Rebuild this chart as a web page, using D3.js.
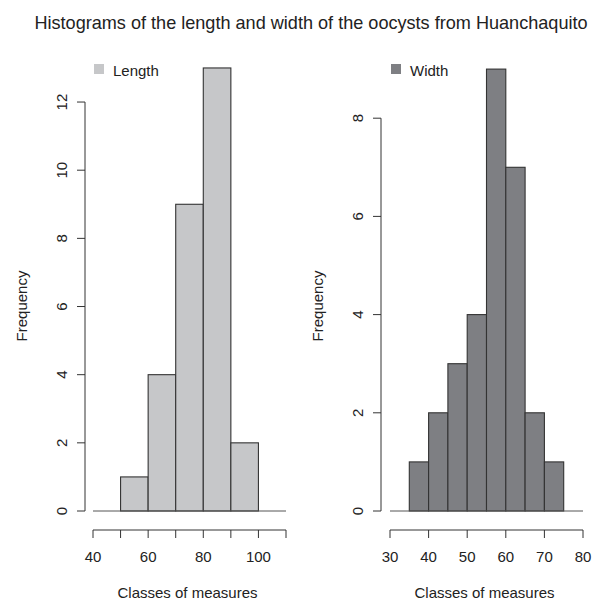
<!DOCTYPE html>
<html>
<head>
<meta charset="utf-8">
<script src="https://cdn.jsdelivr.net/npm/d3@7"></script>
<style>
  body { margin: 0; background: #fff; }
  svg { font-family: "Liberation Sans", Arial, sans-serif; }
</style>
</head>
<body>
<div id="chart"></div>
<script>
// Length histogram (bin start, count), bin width 10
const lengthBins = [50, 60, 70, 80, 90];
const lengthCounts = [1, 4, 9, 13, 2];
const lengthXTicks = [40, 50, 60, 70, 80, 90, 100, 110];
const lengthXLabels = [40, 60, 80, 100];
const lengthYTicks = [0, 2, 4, 6, 8, 10, 12];

// Width histogram (bin start, count), bin width 5
const widthBins = [35, 40, 45, 50, 55, 60, 65, 70];
const widthCounts = [1, 2, 3, 4, 9, 7, 2, 1];
const widthXTicks = [30, 40, 50, 60, 70, 80];
const widthYTicks = [0, 2, 4, 6, 8];

const W = 598, H = 601;
const svg = d3.select("#chart").append("svg")
    .attr("width", W)
    .attr("height", H);

svg.append("text")
    .attr("x", 311)
    .attr("y", 29)
    .attr("text-anchor", "middle")
    .attr("font-size", 18.1)
    .attr("fill", "#222")
    .text("Histograms of the length and width of the oocysts from Huanchaquito");

function panel(opt) {
    const x = d3.scaleLinear().domain(opt.xDomain).range(opt.xRange);
    const y = d3.scaleLinear().domain([0, opt.yMax]).range([511, 511 - opt.yMax * opt.yUnit]);
    const g = svg.append("g");
    const ink = "#333";

    // bars
    g.selectAll("rect.bar")
        .data(opt.bins.map((b, i) => ({ x0: b, x1: b + opt.binWidth, n: opt.counts[i] })))
        .join("rect")
        .attr("class", "bar")
        .attr("x", d => x(d.x0))
        .attr("y", d => y(d.n))
        .attr("width", d => x(d.x1) - x(d.x0))
        .attr("height", d => y(0) - y(d.n))
        .attr("fill", opt.fill)
        .attr("stroke", ink)
        .attr("stroke-width", 1.1);

    // baseline at 0 across the x range
    g.append("line")
        .attr("x1", x(opt.xDomain[0])).attr("x2", x(opt.xDomain[1]))
        .attr("y1", y(0)).attr("y2", y(0))
        .attr("stroke", "#555").attr("stroke-width", 1);

    // x axis
    const xa = g.append("g").attr("transform", "translate(0,530)");
    xa.append("line")
        .attr("x1", x(opt.xTicks[0])).attr("x2", x(opt.xTicks[opt.xTicks.length - 1]))
        .attr("stroke", ink);
    xa.selectAll("line.tick").data(opt.xTicks).join("line")
        .attr("class", "tick")
        .attr("x1", d => x(d)).attr("x2", d => x(d))
        .attr("y1", 0).attr("y2", 8)
        .attr("stroke", ink);
    xa.selectAll("text").data(opt.xLabels).join("text")
        .attr("x", d => x(d))
        .attr("y", 32)
        .attr("text-anchor", "middle")
        .attr("font-size", 15)
        .attr("fill", "#222")
        .text(d => d);

    g.append("text")
        .attr("x", (x(opt.xTicks[0]) + x(opt.xTicks[opt.xTicks.length - 1])) / 2 - 2)
        .attr("y", 598)
        .attr("text-anchor", "middle")
        .attr("font-size", 15)
        .attr("fill", "#222")
        .text("Classes of measures");

    // y axis
    const ya = g.append("g").attr("transform", `translate(${opt.yAxisX},0)`);
    ya.append("line")
        .attr("y1", y(0)).attr("y2", y(opt.yTicks[opt.yTicks.length - 1]))
        .attr("stroke", ink);
    ya.selectAll("line.tick").data(opt.yTicks).join("line")
        .attr("class", "tick")
        .attr("y1", d => y(d)).attr("y2", d => y(d))
        .attr("x1", 0).attr("x2", -8)
        .attr("stroke", ink);
    ya.selectAll("text").data(opt.yTicks).join("text")
        .attr("transform", d => `translate(-18,${y(d)}) rotate(-90)`)
        .attr("text-anchor", "middle")
        .attr("font-size", 15)
        .attr("fill", "#222")
        .text(d => d);

    g.append("text")
        .attr("transform", `translate(${opt.yAxisX - 58},306) rotate(-90)`)
        .attr("text-anchor", "middle")
        .attr("font-size", 15)
        .attr("fill", "#222")
        .text("Frequency");

    // legend
    g.append("rect")
        .attr("x", opt.legendX).attr("y", 64)
        .attr("width", 10).attr("height", 10)
        .attr("fill", opt.fill);
    g.append("text")
        .attr("x", opt.legendX + 19).attr("y", 76)
        .attr("font-size", 15)
        .attr("fill", "#222")
        .text(opt.label);
}

panel({
    bins: lengthBins, counts: lengthCounts, binWidth: 10,
    xDomain: [40, 110], xRange: [93, 286],
    xTicks: lengthXTicks, xLabels: lengthXLabels,
    yMax: 13, yUnit: 34.08, yTicks: lengthYTicks,
    yAxisX: 85, fill: "#c6c7c9", label: "Length", legendX: 94
});

panel({
    bins: widthBins, counts: widthCounts, binWidth: 5,
    xDomain: [30, 80], xRange: [390, 583],
    xTicks: widthXTicks, xLabels: widthXTicks,
    yMax: 9, yUnit: 49.1, yTicks: widthYTicks,
    yAxisX: 381, fill: "#7e7f83", label: "Width", legendX: 391
});
</script>
</body>
</html>
